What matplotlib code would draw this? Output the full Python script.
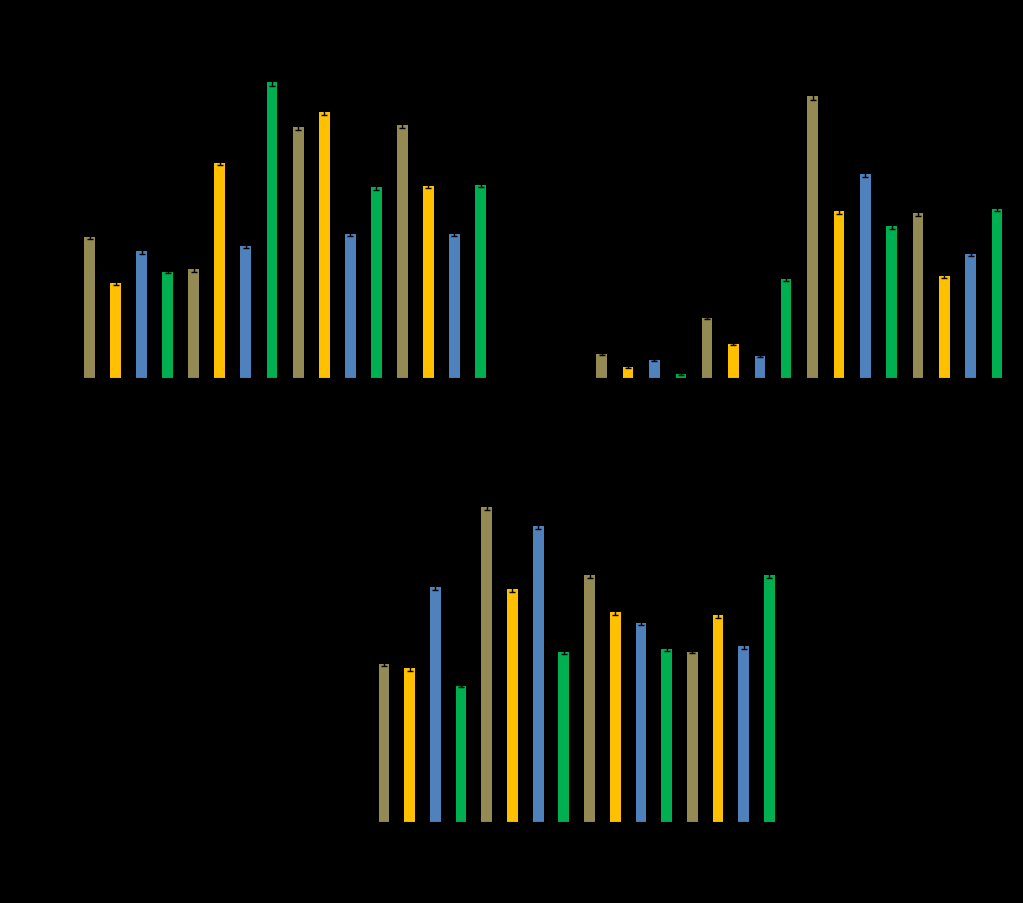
import numpy as np
import matplotlib
matplotlib.use("Agg")
import matplotlib.pyplot as plt

# bar order repeats olive, yellow, blue, green
colors = ["#948A54", "#FFC000", "#4F81BD", "#00B050"] * 4
samples = [f"S{i}" for i in range(1, 17)]

# values (arbitrary units)
panel_a = [14.1, 9.5, 12.7, 10.6, 10.9, 21.5, 13.2, 29.6, 25.1, 26.6, 14.4, 19.1, 25.3, 19.2, 14.4, 19.3]
panel_b = [2.4, 1.1, 1.8, 0.4, 6.0, 3.4, 2.2, 9.9, 28.2, 16.7, 20.4, 15.2, 16.5, 10.2, 12.4, 16.9]
panel_c = [15.8, 15.4, 23.5, 13.6, 31.5, 23.3, 29.6, 17.0, 24.7, 21.0, 19.9, 17.3, 17.0, 20.7, 17.6, 24.7]

err_a = [0.2, 0.2, 0.3, 0.1, 0.3, 0.2, 0.2, 0.4, 0.3, 0.3, 0.2, 0.3, 0.3, 0.2, 0.2, 0.2]
err_b = [0.1, 0.1, 0.1, 0.1, 0.1, 0.1, 0.1, 0.2, 0.4, 0.3, 0.3, 0.3, 0.3, 0.2, 0.2, 0.2]
err_c = [0.2, 0.3, 0.3, 0.1, 0.3, 0.3, 0.3, 0.2, 0.3, 0.3, 0.2, 0.2, 0.1, 0.3, 0.3, 0.3]

W, H = 1023, 903
fig = plt.figure(figsize=(W / 100 + 0.001, H / 100 + 0.001), dpi=100, facecolor="black")


def make_axes(left, right, top, bottom):
    return fig.add_axes([left / W, 1 - bottom / H, (right - left) / W, (bottom - top) / H])


def draw(ax, values, errs, ymax, width, title):
    x = np.arange(len(values))
    ax.bar(x, values, width=width, color=colors, yerr=errs,
           error_kw=dict(ecolor="black", elinewidth=1, capsize=2.5, capthick=1))
    ax.set_facecolor("black")
    ax.set_xlim(-0.75, len(values) - 0.25)
    ax.set_ylim(0, ymax)
    ax.set_xticks(x)
    ax.set_xticklabels(samples, rotation=90, color="black", fontsize=8)
    ax.tick_params(colors="black")
    ax.set_title(title, color="black")
    for s in ax.spines.values():
        s.set_color("black")


ax1 = make_axes(70, 500, 48, 378.3)
draw(ax1, panel_a, err_a, (378.3 - 48) / 10, 0.42, "A")

ax2 = make_axes(581.9, 1016.7, 48, 377.7)
draw(ax2, panel_b, err_b, (377.7 - 48) / 10, 0.40, "B")

ax3 = make_axes(364.7, 788.6, 480, 822.3)
draw(ax3, panel_c, err_c, (822.3 - 480) / 10, 0.42, "C")

fig.savefig("out.png", dpi=100, facecolor="black")
